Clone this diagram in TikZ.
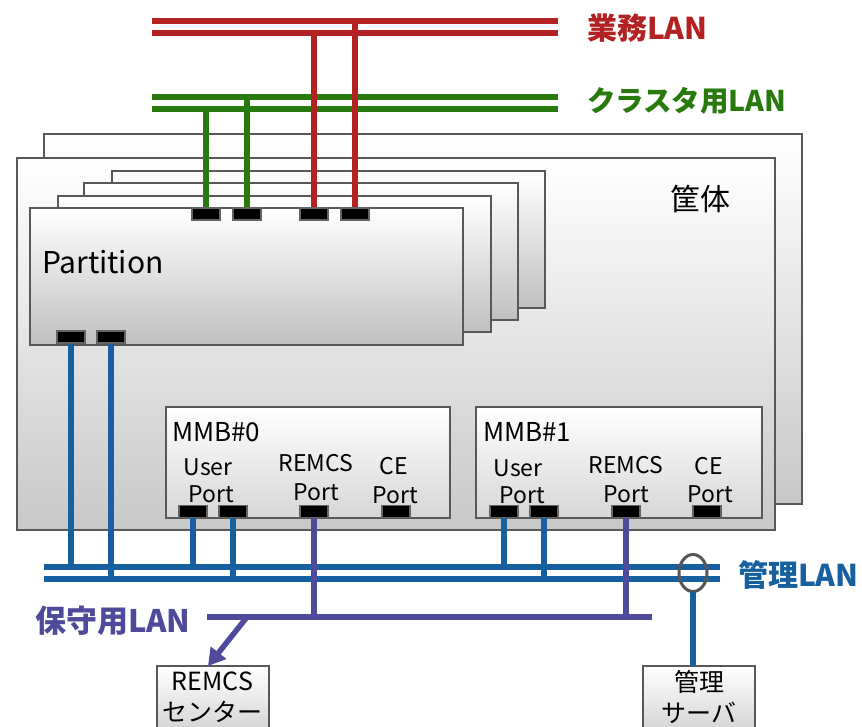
\documentclass[tikz,border=0pt]{standalone}
\usepackage{fontspec}
\setmainfont{Noto Sans CJK JP}
\usetikzlibrary{arrows.meta,shapes.geometric}
\definecolor{lanred}{RGB}{178,34,34}
\definecolor{langreen}{RGB}{40,122,12}
\definecolor{lanblue}{RGB}{22,96,160}
\definecolor{lanpurp}{RGB}{80,74,155}
\definecolor{edge}{RGB}{88,88,88}
\definecolor{portedge}{RGB}{100,100,100}
\definecolor{chasbot}{RGB}{200,200,200}
\definecolor{partbot}{RGB}{192,192,192}
\definecolor{mmbbot}{RGB}{214,214,214}
\definecolor{ringgray}{RGB}{85,85,85}
\begin{document}
\begin{tikzpicture}[x=1pt,y=-1pt,
  every node/.style={inner sep=0,outer sep=0},
  box/.style={draw=edge,line width=2,rectangle,anchor=north west},
  port/.style={draw=portedge,fill=black,line width=1.5,minimum width=28,minimum height=12},
  lan/.style={line width=5.5},
  vlink/.style={line width=5.5},
  lbl/.style={font=\fontsize{30}{36}\selectfont\bfseries,anchor=west},
  mtxt/.style={font=\fontsize{23}{28}\selectfont},
  htxt/.style={font=\fontsize{26}{30}\selectfont},
  endbox/.style={box,anchor=north,minimum width=112,minimum height=62,top color=white,bottom color=mmbbot,align=center,font=\fontsize{25}{31}\selectfont}
]
\useasboundingbox (0,0) rectangle (862,726);
\clip (0,0) rectangle (862,726);

% chassis
\node[box,minimum width=758,minimum height=370,top color=white,bottom color=chasbot] (chassisB) at (44,134) {};
\node[box,minimum width=758,minimum height=372,top color=white,bottom color=chasbot] (chassisF) at (17,158) {};
\node[font=\fontsize{30}{36}\selectfont] (katai) at (700,199) {筐体};

% partitions
\node[box,minimum width=433,minimum height=137,top color=white,bottom color=partbot] (part4) at (112,171) {};
\node[box,minimum width=434,minimum height=137,top color=white,bottom color=partbot] (part3) at (84,183) {};
\node[box,minimum width=433,minimum height=136,top color=white,bottom color=partbot] (part2) at (58,196) {};
\node[box,minimum width=433,minimum height=137,top color=white,bottom color=partbot] (part1) at (30,208) {};
\node[anchor=base west,font=\fontsize{30}{36}\selectfont] (parttxt) at (42,273) {Partition};

% MMBs
\node[box,minimum width=284,minimum height=111,top color=white,bottom color=mmbbot] (mmb0) at (166,407) {};
\node[box,minimum width=286,minimum height=111,top color=white,bottom color=mmbbot] (mmb1) at (476,407) {};
\node[htxt,anchor=west] (mmb0t) at (172,432) {MMB\#0};
\node[mtxt] (m0u) at (208,467) {User};
\node[mtxt] (m0up) at (211,494) {Port};
\node[mtxt] (m0r) at (316,463) {REMCS};
\node[mtxt] (m0rp) at (316,492) {Port};
\node[mtxt] (m0c) at (394,466) {CE};
\node[mtxt] (m0cp) at (395,495) {Port};
\node[htxt,anchor=west] (mmb1t) at (483,432) {MMB\#1};
\node[mtxt] (m1u) at (518,468) {User};
\node[mtxt] (m1up) at (522,495) {Port};
\node[mtxt] (m1r) at (626,465) {REMCS};
\node[mtxt] (m1rp) at (626,494) {Port};
\node[mtxt] (m1c) at (709,466) {CE};
\node[mtxt] (m1cp) at (710,494) {Port};

% end boxes
\node[endbox] (remcs) at (212.5,666) {REMCS\\センター};
\node[endbox] (mserver) at (699,666) {管理\\サーバ};

% LAN line end points
\coordinate (rA1) at (152,21); \coordinate (rA2) at (558,21);
\coordinate (rB1) at (152,33); \coordinate (rB2) at (558,33);
\coordinate (gA1) at (152,97); \coordinate (gA2) at (558,97);
\coordinate (gB1) at (152,109); \coordinate (gB2) at (558,109);
\coordinate (bA1) at (44,567); \coordinate (bA2) at (720,567);
\coordinate (bB1) at (44,579); \coordinate (bB2) at (720,579);
\coordinate (pu1) at (207,617); \coordinate (pu2) at (652,617);
\coordinate (arrS) at (247,617); \coordinate (arrE) at (208,666);

% ports
\node[port] (pt1) at (206,214) {};
\node[port] (pt2) at (247,214) {};
\node[port] (pt3) at (314,214) {};
\node[port] (pt4) at (355,214) {};
\node[port] (pb1) at (71,337) {};
\node[port] (pb2) at (111,337) {};
\node[port] (m0p1) at (193,511.5) {};
\node[port] (m0p2) at (233,511.5) {};
\node[port] (m0p3) at (314,511.5) {};
\node[port] (m0p4) at (396,511.5) {};
\node[port] (m1p1) at (504,511.5) {};
\node[port] (m1p2) at (544,511.5) {};
\node[port] (m1p3) at (626,511.5) {};
\node[port] (m1p4) at (707,511.5) {};

% horizontal LAN lines
\draw[lan,langreen] (gA1) -- (gA2) (gB1) -- (gB2);
\draw[lan,lanred] (rA1) -- (rA2) (rB1) -- (rB2);
\draw[lan,lanblue] (bA1) -- (bA2) (bB1) -- (bB2);

% vertical links
\draw[vlink,langreen] (pt1.north) -- (pt1.north |- gB1);
\draw[vlink,langreen] (pt2.north) -- (pt2.north |- gA1);
\draw[vlink,lanred] (pt3.north) -- (pt3.north |- rB1);
\draw[vlink,lanred] (pt4.north) -- (pt4.north |- rA1);
\draw[vlink,lanblue] (pb1.south) -- (pb1.south |- bA1);
\draw[vlink,lanblue] (pb2.south) -- (pb2.south |- bB1);
\draw[vlink,lanblue] (m0p1.south) -- (m0p1.south |- bA1);
\draw[vlink,lanblue] (m0p2.south) -- (m0p2.south |- bB1);
\draw[vlink,lanblue] (m1p1.south) -- (m1p1.south |- bA1);
\draw[vlink,lanblue] (m1p2.south) -- (m1p2.south |- bB1);

% maintenance LAN
\draw[lan,lanpurp] (pu1) -- (pu2);
\draw[vlink,lanpurp] (m0p3.south) -- (m0p3.south |- pu1);
\draw[vlink,lanpurp] (m1p3.south) -- (m1p3.south |- pu1);
\draw[line width=5.5,lanpurp,-{Triangle[length=17pt,width=19pt]}] (arrS) -- (arrE);

% redraw ports on top
\foreach \p in {pt1,pt2,pt3,pt4,pb1,pb2,m0p1,m0p2,m0p3,m0p4,m1p1,m1p2,m1p3,m1p4}
  \draw[draw=portedge,fill=black,line width=1.5] (\p.north west) rectangle (\p.south east);

% management server link
\node[draw=ringgray,ellipse,line width=3,minimum width=28,minimum height=37] (ring) at (693,573) {};
\draw[vlink,lanblue] (ring.south) -- (ring.south |- mserver.north);

% labels
\node[lbl,text=lanred] (lblRed) at (587,28) {業務LAN};
\node[lbl,text=langreen,font=\fontsize{28.5}{34}\selectfont\bfseries] (lblGreen) at (587,101) {クラスタ用LAN};
\node[lbl,text=lanblue] (lblBlue) at (738,575) {管理LAN};
\node[lbl,text=lanpurp,font=\fontsize{31}{37}\selectfont\bfseries] (lblPurp) at (35,621) {保守用LAN};
\end{tikzpicture}
\end{document}
